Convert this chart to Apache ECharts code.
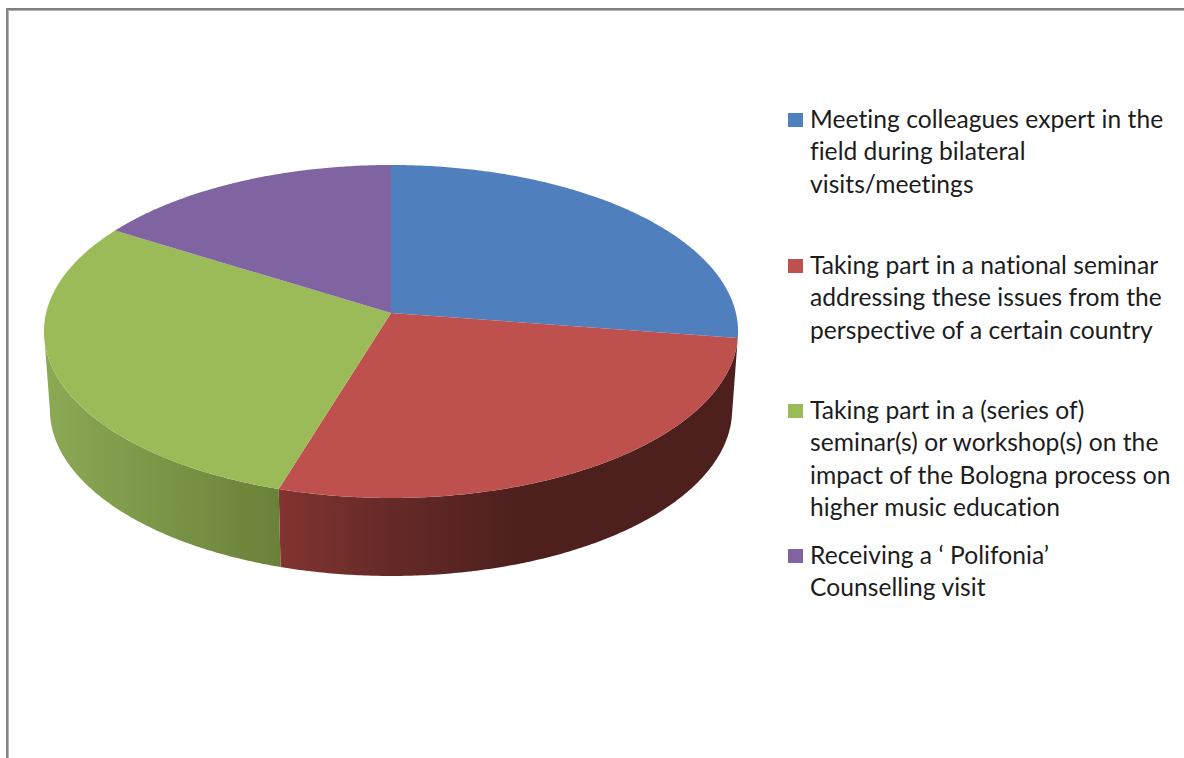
<!DOCTYPE html>
<html>
<head>
<meta charset="utf-8">
<title>Pie chart</title>
<script src="https://cdn.jsdelivr.net/npm/echarts@6/dist/echarts.min.js"></script>
<style>
html, body { margin: 0; padding: 0; background: #fff; }
#chart { width: 1184px; height: 758px; }
#chart text { font-variant-ligatures: none; letter-spacing: 0.04px; }
</style>
</head>
<body>
<div id="chart"></div>
<script>
// Share of responses per activity, in percent
const categories = [
  "Meeting colleagues expert in the\nfield during bilateral\nvisits/meetings",
  "Taking part in a national seminar\naddressing these issues from the\nperspective of a certain country",
  "Taking part in a (series of)\nseminar(s) or workshop(s) on the\nimpact of the Bologna process on\nhigher music education",
  "Receiving a \u2018 Polifonia\u2019\nCounselling visit"
];
const values = [27.4, 27.3, 29.2, 16.1];
const topColors = ["#4f7fbc", "#be504d", "#9bbb59", "#8064a2"];
const wallStops = [
  null,
  [[0, "#82342f"], [0.24, "#652a28"], [0.54, "#4d1f1d"], [1, "#4d1f1d"]],
  [[0, "#8ca955"], [1, "#6a8139"]],
  null
];
const legendTops = [102, 248, 393, 538];

// Perspective projection of the disc onto the page
const view = { cx: 391, scaleX: 344.9, a: 129.7, b: 313, c: -0.111, depth: 78, shrink: 0.983 };
const total = values.reduce((s, v) => s + v, 0);

function topPoint(deg) {
  const t = deg * Math.PI / 180, u = Math.sin(t), v = -Math.cos(t);
  const w = 1 + view.c * v;
  return [view.cx + view.scaleX * u / w, (view.a * v + view.b) / w];
}
function bottomPoint(deg) {
  const p = topPoint(deg);
  return [view.cx + (p[0] - view.cx) * view.shrink, p[1] + view.depth];
}
function arc(fn, from, to) {
  const pts = [], n = Math.max(2, Math.ceil(Math.abs(to - from) * 2));
  for (let i = 0; i <= n; i++) pts.push(fn(from + (to - from) * i / n));
  return pts;
}
// Outline extremes of the projected ellipse bound the visible wall
const edgeRight = Math.acos(view.c) * 180 / Math.PI;
const edgeLeft = 360 - edgeRight;

function sliceRange(i) {
  let acc = 0;
  for (let k = 0; k < i; k++) acc += values[k];
  return [acc / total * 360, (acc + values[i]) / total * 360];
}

function renderSlice(params, api) {
  const i = params.dataIndex;
  const [from, to] = sliceRange(i);
  const children = [];
  const mid = (from + to) / 2;
  if (mid > edgeRight && mid < edgeLeft) {
    const a = Math.max(from, edgeRight), b = Math.min(to, edgeLeft);
    children.push({
      type: "polygon",
      z2: 1,
      shape: { points: arc(topPoint, a, b).concat(arc(bottomPoint, b, a)) },
      style: {
        fill: new echarts.graphic.LinearGradient(0, 0, 1, 0,
          wallStops[i].map(s => ({ offset: s[0], color: s[1] })))
      }
    });
  }
  const apex = [view.cx, view.b];
  children.push({
    type: "polygon",
    z2: 2,
    shape: { points: [apex].concat(arc(topPoint, from, to)) },
    style: { fill: topColors[i] }
  });
  return { type: "group", children };
}

const legendGraphics = [];
categories.forEach((label, i) => {
  legendGraphics.push({
    type: "rect", left: 788, top: legendTops[i] + 11,
    shape: { width: 15, height: 14 },
    style: { fill: topColors[i] }
  });
  legendGraphics.push({
    type: "text", left: 810, top: legendTops[i],
    style: { text: label, font: '24.6px Lato', lineHeight: 32.4, fill: "#1c1c1c" }
  });
});

const frame = [
  { type: "rect", left: 6, top: 8, shape: { width: 1178, height: 2 }, style: { fill: "#808080" } },
  { type: "rect", left: 8, top: 10, shape: { width: 1176, height: 1 }, style: { fill: "#b4b4b4" } },
  { type: "rect", left: 6, top: 8, shape: { width: 2, height: 750 }, style: { fill: "#858585" } },
  { type: "rect", left: 8, top: 10, shape: { width: 1, height: 748 }, style: { fill: "#b4b4b4" } }
];

const chart = echarts.init(document.getElementById("chart"), null, { renderer: "svg" });
chart.setOption({
  animation: false,
  backgroundColor: "#ffffff",
  graphic: frame.concat(legendGraphics),
  series: [{
    type: "custom",
    coordinateSystem: "none",
    renderItem: renderSlice,
    data: categories.map((name, i) => ({ name, value: values[i] }))
  }]
});
</script>
</body>
</html>
